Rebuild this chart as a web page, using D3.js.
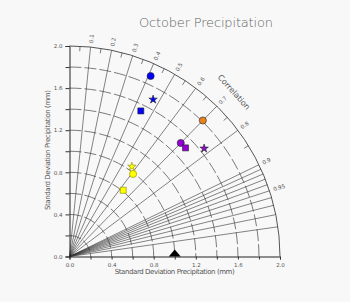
<!DOCTYPE html>
<html>
<head>
<meta charset="utf-8">
<script src="https://cdn.jsdelivr.net/npm/d3@7"></script>
<style>
  body { margin: 0; background: #f8f8f8; }
  text { font-family: "DejaVu Sans", sans-serif; fill: #555; }
</style>
</head>
<body>
<div id="taylor"></div>
<script>
// values
const pointStd   = [1.88, 1.69, 1.54, 1.81, 1.51, 1.51, 1.64, 1.04, 0.99, 0.81];
const pointCorr  = [0.41, 0.47, 0.44, 0.70, 0.70, 0.73, 0.78, 0.57, 0.61, 0.63];
const pointShape = ["circle", "star", "square", "circle", "circle", "square", "star", "star", "circle", "square"];
const pointColor = ["#0000ff", "#0000ff", "#0000ff", "#e8821e", "#9400d3", "#9400d3", "#8a10c8", "#ffff00", "#ffff00", "#ffff00"];
const refStd = 1.0;

const stdTicks = [0, 0.2, 0.4, 0.6, 0.8, 1.0, 1.2, 1.4, 1.6, 1.8, 2.0];
const stdLabels = [0, 0.4, 0.8, 1.2, 1.6, 2.0];
const corrMajor = [0.1, 0.2, 0.3, 0.4, 0.5, 0.6, 0.7, 0.8, 0.9];
const corrFine = [0.91, 0.92, 0.93, 0.94, 0.95, 0.96, 0.97, 0.98, 0.99];
const corrMinor = [0.05, 0.15, 0.25, 0.35, 0.45, 0.55, 0.65, 0.75, 0.85];
const corrLabels = [0.1, 0.2, 0.3, 0.4, 0.5, 0.6, 0.7, 0.8, 0.9, 0.95];

const width = 350, height = 302;
const ox = 69.5, oy = 256.5, R = 210.5;

const svg = d3.select("#taylor")
    .append("svg")
    .attr("width", width)
    .attr("height", height);

svg.append("rect").attr("width", width).attr("height", height).attr("fill", "#f8f8f8");

const r = d3.scaleLinear().domain([0, 2]).range([0, R]);
const x = d3.scaleLinear().domain([0, 2]).range([ox, ox + R]);
const y = d3.scaleLinear().domain([0, 2]).range([oy, oy - R]);

const g = svg.append("g").attr("transform", `translate(${ox},${oy})`);

// std-dev arcs around origin
function quarterArc(rad) {
    const p = d3.path();
    p.moveTo(0, -rad);
    p.arc(0, 0, rad, -Math.PI / 2, 0);
    return p.toString();
}
g.selectAll("path.sd")
    .data(stdTicks.filter(d => d > 0 && d < 2))
    .join("path")
    .attr("class", "sd")
    .attr("d", d => quarterArc(r(d)))
    .attr("fill", "none")
    .attr("stroke", "#444")
    .attr("stroke-width", 0.7)
    .attr("stroke-dasharray", "12,3");

g.append("path")
    .attr("d", quarterArc(r(2)))
    .attr("fill", "none")
    .attr("stroke", "#555")
    .attr("stroke-width", 1);

// correlation rays
const ang = c => Math.acos(c);
g.selectAll("line.ray")
    .data(corrMajor.concat(corrFine))
    .join("line")
    .attr("class", "ray")
    .attr("x1", 0).attr("y1", 0)
    .attr("x2", d => R * Math.cos(ang(d)))
    .attr("y2", d => -R * Math.sin(ang(d)))
    .attr("stroke", "#333")
    .attr("stroke-width", 0.6);

// minor ticks on the outer arc
g.selectAll("line.ctick")
    .data(corrMinor)
    .join("line")
    .attr("class", "ctick")
    .attr("x1", d => (R - 5) * Math.cos(ang(d)))
    .attr("y1", d => -(R - 5) * Math.sin(ang(d)))
    .attr("x2", d => R * Math.cos(ang(d)))
    .attr("y2", d => -R * Math.sin(ang(d)))
    .attr("stroke", "#444")
    .attr("stroke-width", 0.7);

// correlation labels
g.selectAll("text.clab")
    .data(corrLabels)
    .join("text")
    .attr("class", "clab")
    .attr("transform", d => {
        const a = ang(d), rr = R + 4;
        return `translate(${rr * Math.cos(a)},${-rr * Math.sin(a)}) rotate(${-a * 180 / Math.PI})`;
    })
    .attr("dy", "0.35em")
    .attr("font-size", 5.5)
    .text(d => d);

svg.append("text")
    .attr("transform", "translate(232,94) rotate(48)")
    .attr("text-anchor", "middle")
    .attr("font-size", 8)
    .text("Correlation");

// axes
const fmt = d => stdLabels.some(v => Math.abs(v - d) < 1e-9) ? d.toFixed(1) : "";
const xAxis = svg.append("g")
    .attr("transform", `translate(0,${oy})`)
    .call(d3.axisBottom(x).tickValues(stdTicks).tickFormat(fmt).tickSize(3).tickPadding(4));
const yAxis = svg.append("g")
    .attr("transform", `translate(${ox},0)`)
    .call(d3.axisLeft(y).tickValues(stdTicks).tickFormat(fmt).tickSize(4).tickPadding(3));
[xAxis, yAxis].forEach(a => {
    a.select(".domain").attr("stroke", "#222").attr("stroke-width", 1);
    a.selectAll(".tick line").attr("stroke", "#333");
    a.selectAll(".tick text").attr("font-size", 5.5).attr("fill", "#555")
        .attr("font-family", "DejaVu Sans, sans-serif");
});

svg.append("text")
    .attr("x", ox + R / 2).attr("y", 274)
    .attr("text-anchor", "middle")
    .attr("font-size", 7)
    .attr("textLength", 120)
    .text("Standard Deviation Precipitation (mm)");

svg.append("text")
    .attr("transform", `translate(50,150) rotate(-90)`)
    .attr("text-anchor", "middle")
    .attr("font-size", 7)
    .attr("textLength", 120)
    .text("Standard Deviation Precipitation (mm)");

svg.append("text")
    .attr("x", 139).attr("y", 27)
    .attr("font-size", 13)
    .attr("font-weight", 300)
    .attr("textLength", 134)
    .style("fill", "#666")
    .text("October Precipitation");

// reference point
svg.append("path")
    .attr("d", "M-6,0L6,0L0,-7Z")
    .attr("transform", `translate(${x(refStd)},${oy})`)
    .attr("fill", "#000");

// model points
const symbols = { circle: d3.symbolCircle, square: d3.symbolSquare, star: d3.symbolStar };
const sizes = { circle: 40, square: 36, star: 22 };
const pts = pointStd.map((s, i) => ({ s, c: pointCorr[i], shape: pointShape[i], color: pointColor[i] }));
svg.append("g")
    .selectAll("path")
    .data(pts)
    .join("path")
    .attr("d", d => d3.symbol(symbols[d.shape], sizes[d.shape])())
    .attr("transform", d => `translate(${x(d.s * d.c)},${y(d.s * Math.sin(Math.acos(d.c)))})`)
    .attr("fill", d => d.color)
    .attr("stroke", d => d.color === "#ffff00" ? "#8a8a00" : "#222")
    .attr("stroke-width", 0.6);
</script>
</body>
</html>
